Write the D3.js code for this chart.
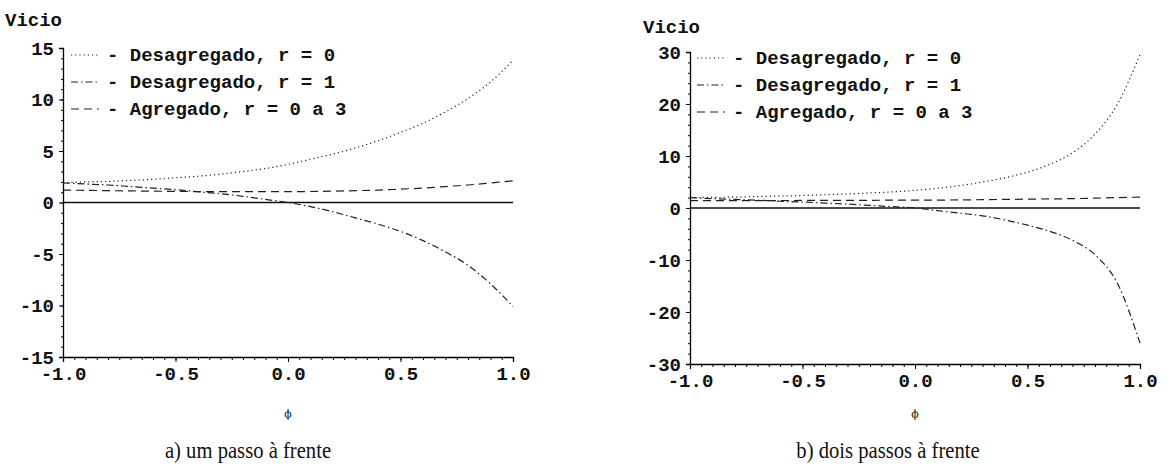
<!DOCTYPE html>
<html>
<head>
<meta charset="utf-8">
<script src="https://cdn.jsdelivr.net/npm/d3@7"></script>
<style>
  body { margin: 0; background: #fff; }
  svg text { fill: #111; }
  .mono { font-family: "Liberation Mono", "DejaVu Sans Mono", monospace; font-weight: bold; font-size: 19px; }
  .cap { font-family: "Liberation Serif", serif; font-size: 24px; }
</style>
</head>
<body>
<script>
// phi values (x axis)
const phi = [-1, -0.9, -0.8, -0.7, -0.6, -0.5, -0.4, -0.3, -0.2, -0.1, 0, 0.1, 0.2, 0.3, 0.4, 0.5, 0.6, 0.7, 0.8, 0.9, 1];

// a) um passo a frente
const umDesagr0 = [1.9, 2.0, 2.05, 2.15, 2.25, 2.4, 2.55, 2.75, 3.0, 3.3, 3.7, 4.2, 4.7, 5.3, 6.0, 6.8, 7.7, 8.8, 10.1, 11.7, 13.8];
const umDesagr1 = [1.9, 1.8, 1.7, 1.55, 1.4, 1.25, 1.05, 0.85, 0.6, 0.3, 0.0, -0.4, -0.9, -1.5, -2.1, -2.8, -3.7, -4.8, -6.1, -7.9, -10.1];
const umAgreg = [1.2, 1.18, 1.15, 1.12, 1.1, 1.08, 1.06, 1.05, 1.05, 1.05, 1.05, 1.07, 1.1, 1.15, 1.2, 1.3, 1.4, 1.55, 1.7, 1.9, 2.1];

// b) dois passos a frente
const doisDesagr0 = [2.0, 2.05, 2.1, 2.2, 2.3, 2.4, 2.55, 2.7, 2.9, 3.1, 3.4, 3.8, 4.3, 5.0, 5.8, 6.9, 8.4, 10.6, 14.2, 20.0, 29.5];
const doisDesagr1 = [2.0, 1.8, 1.65, 1.5, 1.3, 1.15, 0.95, 0.75, 0.5, 0.25, 0.0, -0.5, -1.0, -1.5, -2.3, -3.3, -4.5, -6.2, -9.0, -14.5, -26];
const doisAgreg = [1.4, 1.4, 1.4, 1.42, 1.43, 1.45, 1.46, 1.47, 1.48, 1.5, 1.5, 1.52, 1.55, 1.6, 1.65, 1.7, 1.75, 1.8, 1.9, 2.0, 2.1];

const xTicks = [-1.0, -0.5, 0.0, 0.5, 1.0];
const yTicksUm = [-15, -10, -5, 0, 5, 10, 15];
const yTicksDois = [-30, -20, -10, 0, 10, 20, 30];

const legendLabels = ["- Desagregado, r = 0", "- Desagregado, r = 1", "- Agregado, r = 0 a 3"];
const captions = ["a) um passo à frente", "b) dois passos à frente"];

const dashes = ["1.2,3", "7,3,1.5,3", "8,5"];

const svg = d3.select('body').append('svg')
    .attr('width', 1169)
    .attr('height', 472);

function drawPanel(p) {
    const g = svg.append('g');
    const x = d3.scaleLinear().domain([-1, 1]).range([p.x0, p.x1]);
    const y = d3.scaleLinear().domain(p.yDomain).range(p.yRange);

    // zero reference line
    g.append('line')
        .attr('x1', x(-1)).attr('x2', x(1))
        .attr('y1', y(0)).attr('y2', y(0))
        .attr('stroke', '#111').attr('stroke-width', 1.4);

    // y axis: minor + major ticks
    const yMinor = d3.range(p.yDomain[0], p.yDomain[1] + 0.001, p.yMinor);
    g.append('g')
        .attr('transform', `translate(${x(-1)},0)`)
        .call(d3.axisLeft(y).tickValues(yMinor).tickSize(2).tickFormat(''))
        .call(a => a.select('.domain').remove());
    g.append('g')
        .attr('transform', `translate(${x(-1)},0)`)
        .call(d3.axisLeft(y).tickValues(p.yTicks).tickSize(4).tickPadding(5)
            .tickFormat(d => d3.format('d')(d).replace('\u2212', '-')))
        .call(a => a.selectAll('text').attr('class', 'mono'))
        .call(a => a.attr('font-size', null).attr('font-family', null))
        .call(a => a.select('.domain').attr('stroke-width', 1.3));

    // x axis
    const xMinor = d3.range(-1, 1.001, 0.05);
    g.append('g')
        .attr('transform', `translate(0,${y(p.yDomain[0])})`)
        .call(d3.axisBottom(x).tickValues(xMinor).tickSize(3).tickFormat(''))
        .call(a => a.select('.domain').remove());
    g.append('g')
        .attr('transform', `translate(0,${y(p.yDomain[0])})`)
        .call(d3.axisBottom(x).tickValues(xTicks).tickSize(5).tickPadding(5)
            .tickFormat(d => d3.format('.1f')(d).replace('\u2212', '-')))
        .call(a => a.selectAll('text').attr('class', 'mono'))
        .call(a => a.attr('font-size', null).attr('font-family', null))
        .call(a => a.select('.domain').attr('stroke-width', 1.3));

    // series
    const line = d3.line()
        .x((d, i) => x(phi[i]))
        .y(d => y(d))
        .curve(d3.curveMonotoneX);
    p.series.forEach((s, i) => {
        g.append('path')
            .datum(s)
            .attr('d', line)
            .attr('fill', 'none')
            .attr('stroke', '#222')
            .attr('stroke-width', 1.2)
            .attr('stroke-dasharray', dashes[i]);
    });

    // legend
    const leg = g.append('g');
    legendLabels.forEach((lab, i) => {
        const ly = p.legY + i * 27;
        leg.append('line')
            .attr('x1', p.legX).attr('x2', p.legX + 28)
            .attr('y1', ly).attr('y2', ly)
            .attr('stroke', '#222').attr('stroke-width', 1.2)
            .attr('stroke-dasharray', dashes[i]);
        leg.append('text')
            .attr('class', 'mono')
            .attr('x', p.legX + 36)
            .attr('y', ly + 6)
            .text(lab);
    });

    // labels
    g.append('text').attr('class', 'mono')
        .attr('x', p.vicioX).attr('y', p.vicioY)
        .text('Vicio');
    g.append('text')
        .attr('x', x(0)).attr('y', 418)
        .attr('text-anchor', 'middle')
        .attr('font-family', 'DejaVu Serif')
        .attr('font-size', 11)
        .text('\u03d5');
    // caption: condensed serif
    g.append('text').attr('class', 'cap')
        .attr('transform', `translate(${p.capX},458) scale(0.86,1)`)
        .attr('text-anchor', 'middle')
        .text(p.caption);
}

drawPanel({ x0: 63, x1: 513, yDomain: [-15, 15], yRange: [357, 48], yTicks: yTicksUm, yMinor: 1,
    series: [umDesagr0, umDesagr1, umAgreg], legX: 71, legY: 55, vicioX: 5, vicioY: 26,
    capX: 248, caption: captions[0] });
drawPanel({ x0: 690, x1: 1140, yDomain: [-30, 30], yRange: [364, 52], yTicks: yTicksDois, yMinor: 2,
    series: [doisDesagr0, doisDesagr1, doisAgreg], legX: 697, legY: 58, vicioX: 643, vicioY: 33,
    capX: 888, caption: captions[1] });
</script>
</body>
</html>
